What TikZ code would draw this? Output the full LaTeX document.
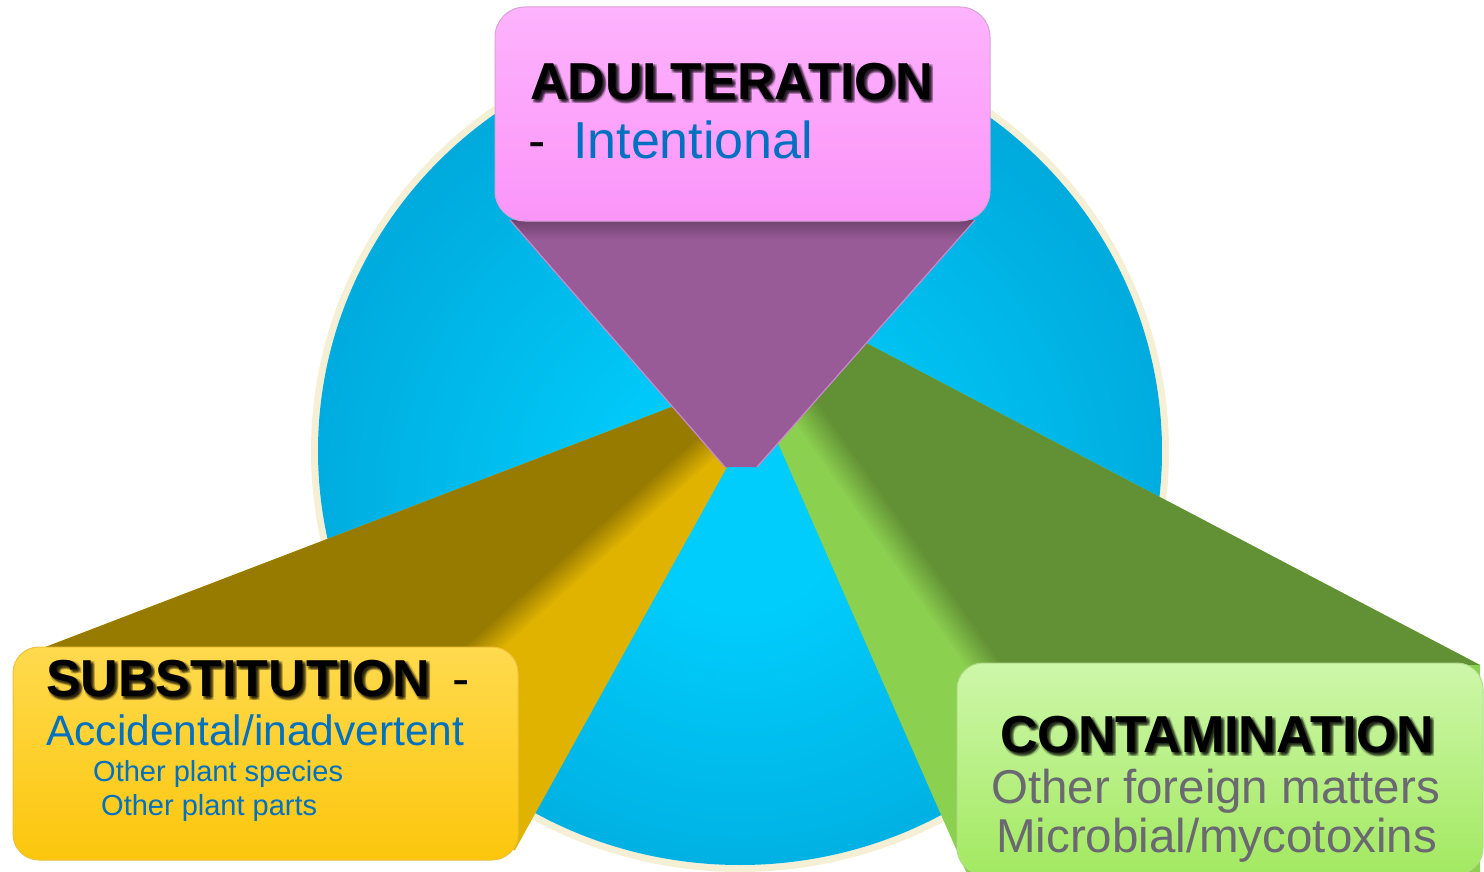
\documentclass[tikz,border=0pt]{standalone}
\usepackage{fontspec}
\setmainfont{Liberation Sans}
\usetikzlibrary{calc}

\definecolor{ringcream}{HTML}{F5F0D5}
\definecolor{discA}{HTML}{00CDFC}
\definecolor{discB}{HTML}{00ABDE}
\definecolor{discC}{HTML}{0097C9}
\definecolor{pinkT}{HTML}{FDB3FD}
\definecolor{pinkB}{HTML}{FB95F9}
\definecolor{pinkEdge}{HTML}{D8A2D8}
\definecolor{plum}{HTML}{985B97}
\definecolor{plumEdge}{HTML}{C98ACB}
\definecolor{yellowT}{HTML}{FFDA4E}
\definecolor{yellowB}{HTML}{FCC60C}
\definecolor{yellowEdge}{HTML}{EEC13A}
\definecolor{goldTop}{HTML}{977A00}
\definecolor{goldSide}{HTML}{DFB300}
\definecolor{leafTop}{HTML}{629035}
\definecolor{leafSide}{HTML}{8CD04F}
\definecolor{greenT}{HTML}{CEF7AA}
\definecolor{greenB}{HTML}{A3E961}
\definecolor{greenEdge}{HTML}{B2DC8A}
\definecolor{textblue}{HTML}{0070C0}
\definecolor{textgray}{HTML}{6A6870}

% radial light in the middle of the disc
\pgfdeclareradialshading{discshade}{\pgfpoint{0bp}{-4bp}}{%
  color(0bp)=(discA); color(6bp)=(discA); color(26bp)=(discB);
  color(46bp)=(discC); color(80bp)=(discC)}

\tikzset{
  heading/.style={anchor=base west, inner sep=0pt, text=black,
    font=\fontsize{52}{60}\selectfont\bfseries},
  headshadow/.style={heading, opacity=0.2},
  plaintext/.style={anchor=base west, inner sep=0pt},
  bluebig/.style={plaintext, text=textblue},
  graytext/.style={plaintext, text=textgray,
    font=\fontsize{47.5}{56}\selectfont},
  boxface/.style={rounded corners=#1, line width=1pt},
}

% bold title with a soft drop shadow
\newcommand\shadowedtitle[4]{%
  \foreach \dx/\dy [count=\n] in {1/2,2/1,2/3,3/2,3/3,1/4,4/1,4/4}
    {\node[headshadow] (#1-s\n) at (#2+\dx,#3+\dy) {#4};}
  \node[heading] (#1) at (#2,#3) {#4};}

\begin{document}
\begin{tikzpicture}[x=1pt,y=-1pt]
\useasboundingbox (0,0) rectangle (1484,872);

% ---- disc with cream rim
\fill[ringcream] (740,451) ellipse [x radius=429pt, y radius=421pt];
\shade[shading=discshade] (740,451) ellipse [x radius=422pt, y radius=414pt];

% ---- gold beam towards SUBSTITUTION
\fill[goldSide] (35,651) -- (690,400) -- (735,455) -- (727,467)
  -- (515,850) -- (60,850) -- cycle;
\fill[goldTop] (35,651) -- (690,400) -- (712,443) -- (482,650) -- cycle;
\coordinate (g1) at (740,418);
\coordinate (g2) at (467,663);
\begin{scope}
  \clip (35,651) -- (690,400) -- (735,455) -- (727,467)
    -- (515,850) -- (60,850) -- cycle;
  \foreach \k in {-14,-12,...,14} {
    \pgfmathtruncatemacro\mix{100*(14-\k)/28}
    \draw[line width=2.6pt, color=goldTop!\mix!goldSide]
      ($(g1)+(\k*0.669,\k*0.743)$) -- ($(g2)+(\k*0.669,\k*0.743)$);
  }
\end{scope}

% ---- green beam towards CONTAMINATION
\fill[leafSide] (830,324) -- (1480,665) -- (1480,874) -- (967,874)
  -- (778,443) -- (770,415) -- cycle;
\fill[leafTop] (800,408) -- (830,324) -- (1480,665) -- (982,664) -- cycle;
\coordinate (e1) at (788,387);
\coordinate (e2) at (991,676);
\begin{scope}
  \clip (830,324) -- (1480,665) -- (1480,874) -- (967,874)
    -- (778,443) -- (770,415) -- cycle;
  \foreach \k in {-16,-14,...,16} {
    \pgfmathtruncatemacro\mix{100*(\k+16)/32}
    \draw[line width=2.6pt, color=leafSide!\mix!leafTop]
      ($(e1)+(-\k*0.818,\k*0.575)$) -- ($(e2)+(-\k*0.818,\k*0.575)$);
  }
\end{scope}

% ---- plum beam towards ADULTERATION
\fill[plum] (510,220) -- (975,220) -- (757,467) -- (725,467) -- cycle;
\begin{scope}
  \clip (510,220) -- (975,220) -- (757,467) -- (725,467) -- cycle;
  \shade[top color=plum!70!black, bottom color=plum] (495,218) rectangle (990,240);
\end{scope}
\draw[plumEdge, line width=1.2pt] (510,220) -- (725,467);
\draw[plumEdge, line width=1.2pt] (975,220) -- (757,467);

% ---- label boxes
\path[boxface=30pt, top color=pinkT, bottom color=pinkB, draw=pinkEdge]
  (495,7) rectangle (990,221);
\path[boxface=26pt, top color=yellowT, bottom color=yellowB, draw=yellowEdge]
  (13,647) rectangle (518,860);
\path[boxface=26pt, top color=greenT, bottom color=greenB, draw=greenEdge]
  (957,663) rectangle (1483,874);

% ---- texts
\shadowedtitle{adul}{530}{100}{ADULTERATION}
\node[plaintext, font=\fontsize{52}{60}\selectfont] (adul-dash) at (528,159) {-};
\node[bluebig, font=\fontsize{52}{60}\selectfont] (adul-kind) at (573,159) {Intentional};

\shadowedtitle{subs}{46}{696}{SUBSTITUTION}
\node[plaintext, font=\fontsize{52}{60}\selectfont] (subs-dash) at (452,696) {-};
\node[bluebig, font=\fontsize{42.5}{50}\selectfont] (subs-kind) at (46,745) {Accidental/inadvertent};
\node[bluebig, font=\fontsize{29}{34}\selectfont] (subs-a) at (93,781) {Other plant species};
\node[bluebig, font=\fontsize{29}{34}\selectfont] (subs-b) at (101,815) {Other plant parts};

\shadowedtitle{cont}{1000}{752}{CONTAMINATION}
\node[graytext] (cont-a) at (991,803) {Other foreign matters};
\node[graytext] (cont-b) at (996,852) {Microbial/mycotoxins};
\end{tikzpicture}
\end{document}
